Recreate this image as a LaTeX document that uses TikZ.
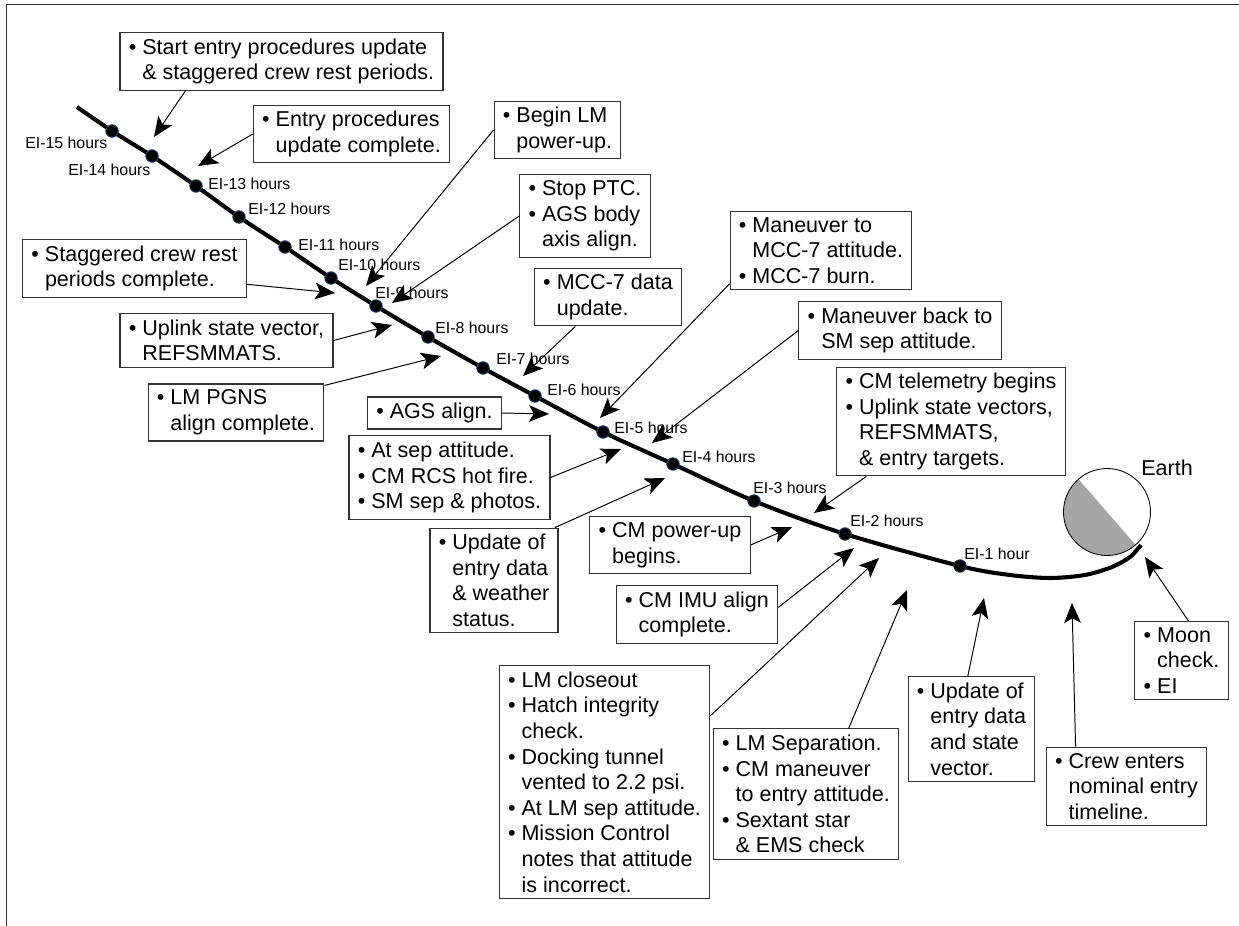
\documentclass[tikz,border=0pt]{standalone}
\usepackage{fontspec}
\setmainfont{Liberation Sans}
\usepackage{tikz}
\usepackage{xcolor}
\usetikzlibrary{arrows.meta}
\definecolor{lightgrey}{RGB}{166,166,166}
\definecolor{dotblue}{RGB}{31,56,100}
\definecolor{framegrey}{RGB}{50,50,50}
\newcommand{\itm}{\makebox[0.63em][l]{\textbullet}}
\newcommand{\ind}{\hspace*{0.63em}}
\tikzstyle{note}=[draw=black!80, line width=0.8pt, fill=white, align=left, inner xsep=0.22cm, inner ysep=0.15cm, font={\fontsize{15.3}{18.2}\selectfont}]
\tikzstyle{hour}=[anchor=west, inner sep=0pt, font={\fontsize{11.3}{13}\selectfont}]
\tikzstyle{dot}=[circle, fill=black, draw=dotblue, line width=0.7pt, inner sep=0pt, minimum size=0.31cm]
\tikzstyle{pointer}=[line width=0.7pt, -{Stealth[length=0.5cm, width=0.42cm, inset=0.12cm]}]

\begin{document}
\begin{tikzpicture}[x=0.025cm, y=-0.025cm]
		\useasboundingbox (0,0) rectangle (1239,926);
		\draw[framegrey, line width=1.3pt] (6.5,926) -- (6.5,4.5) -- (1239,4.5);

		% trajectory
		\draw[line width=2.9pt] plot[smooth] coordinates {(77,107) (112,131) (152,156) (196,186) (239,217) (285,247) (331,278) (376,306) (428,337) (483,368) (535,396) (603,432) (673,464) (754,501) (845,534) (960,566) (1010,575) (1050,578) (1085,575) (1112,567) (1130,557) (1141,545)};

		% earth
		\fill[lightgrey] (1107,512) ++(49:43.5) arc[start angle=49, end angle=229, radius=43.5] -- cycle;
		\draw[line width=0.6pt] (1107,512) circle[radius=43.5];
		\node[font={\fontsize{15.3}{18.2}\selectfont}] (earth) at (1167,468) {Earth};

		\foreach \n/\x/\y in {15/112/131, 14/152/156, 13/196/186, 12/239/217, 11/285/247, 10/331/278, 9/376/306, 8/428/337, 7/483/368, 6/535/396, 5/603/432, 4/673/464, 3/754/501, 2/845/534, 1/960/566}
			\node[dot] (d\n) at (\x,\y) {};
		\foreach \n/\x/\y in {15/25/143, 14/68/170, 13/208/184, 12/248/209, 11/298/245, 10/338/265, 9/375/293, 8/435/328, 7/496/359, 6/547/390, 5/614/428, 4/682/457, 3/753/488, 2/850/521}
			\node[hour] (l\n) at (\x,\y) {EI-\n\ hours};
		\node[hour] (l1) at (964,554) {EI-1 hour};

		% upper notes
		\node[note] (startUpd) at (281.5,61.5) {\itm Start entry procedures update\\ \ind\& staggered crew rest periods.};
		\node[note] (updDone) at (351.5,134) {\itm Entry procedures\\ \ind update complete.};
		\node[note] (lmPower) at (557.5,130) {\itm Begin LM\\ \ind power-up.};
		\node[note] (stopPtc) at (585,216) {\itm Stop PTC.\\ \itm AGS body\\ \ind axis align.};
		\node[note] (mccData) at (608,297) {\itm MCC-7 data\\ \ind update.};
		\node[note] (mccBurn) at (821,250.5) {\itm Maneuver to\\ \ind MCC-7 attitude.\\ \itm MCC-7 burn.};
		\node[note] (smBack) at (900,330.5) {\itm Maneuver back to\\ \ind SM sep attitude.};
		\node[note] (cmTlm) at (951,421.5) {\itm CM telemetry begins\\ \itm Uplink state vectors,\\ \ind REFSMMATS,\\ \ind\& entry targets.};

		% left notes
		\node[note] (restDone) at (134.5,268.5) {\itm Staggered crew rest\\ \ind periods complete.};
		\node[note] (uplink) at (226.5,340.5) {\itm Uplink state vector,\\ \ind REFSMMATS.};
		\node[note] (pgns) at (236,412.5) {\itm LM PGNS\\ \ind align complete.};
		\node[note] (agsAlign) at (434.5,413) {\itm AGS align.};
		\node[note] (sepAtt) at (449.5,477.5) {\itm At sep attitude.\\ \itm CM RCS hot fire.\\ \itm SM sep \& photos.};
		\node[note] (wxData) at (494,580.5) {\itm Update of\\ \ind entry data\\ \ind\& weather\\ \ind status.};
		\node[note] (cmPower) at (670,545) {\itm CM power-up\\ \ind begins.};
		\node[note] (cmImu) at (697,614.5) {\itm CM IMU align\\ \ind complete.};

		% lower notes
		\node[note] (lmClose) at (604.5,782) {\itm LM closeout\\ \itm Hatch integrity\\ \ind check.\\ \itm Docking tunnel\\ \ind vented to 2.2 psi.\\ \itm At LM sep attitude.\\ \itm Mission Control\\ \ind notes that attitude\\ \ind is incorrect.};
		\node[note] (lmSep) at (806,794) {\itm LM Separation.\\ \itm CM maneuver\\ \ind to entry attitude.\\ \itm Sextant star\\ \ind\& EMS check};
		\node[note] (svData) at (971.5,729) {\itm Update of\\ \ind entry data\\ \ind and state\\ \ind vector.};
		\node[note] (crewTl) at (1126.5,786.5) {\itm Crew enters\\ \ind nominal entry\\ \ind timeline.};
		\node[note] (moonChk) at (1181.5,660.5) {\itm Moon\\ \ind check.\\ \itm EI};

		\coordinate (startUpdTip) at (154,137);
		\coordinate (updDoneTip) at (198,166);
		\coordinate (lmPowerTip) at (366,286);
		\coordinate (stopPtcTip) at (392,303);
		\coordinate (mccDataTip) at (523,376);
		\coordinate (mccBurnTip) at (600,418);
		\coordinate (smBackTip) at (652,443);
		\coordinate (cmTlmTip) at (814,513);
		\coordinate (restDoneTip) at (335,293);
		\coordinate (uplinkTip) at (392,325);
		\coordinate (pgnsTip) at (441,356);
		\coordinate (agsAlignTip) at (549,414);
		\coordinate (sepAttTip) at (621,449);
		\coordinate (wxDataTip) at (665,478);
		\coordinate (cmPowerTip) at (792,527);
		\coordinate (cmImuTip) at (854,548);
		\coordinate (lmCloseTip) at (879,558);
		\coordinate (lmSepTip) at (907,590);
		\coordinate (svDataTip) at (984,598);
		\coordinate (crewTlTip) at (1072,603);
		\coordinate (moonChkTip) at (1145,557);

		\draw[pointer] (startUpd.197) -- (startUpdTip);
		\draw[pointer] (updDone.west) -- (updDoneTip);
		\draw[pointer] (lmPower.west) -- (lmPowerTip);
		\draw[pointer] (stopPtc.west) -- (stopPtcTip);
		\draw[pointer] (mccData.222) -- (mccDataTip);
		\draw[pointer] (mccBurn.200) -- (mccBurnTip);
		\draw[pointer] (smBack.west) -- (smBackTip);
		\draw[pointer] (cmTlm.213) -- (cmTlmTip);
		\draw[pointer] (restDone.352) -- (restDoneTip);
		\draw[pointer] (uplink.east) -- (uplinkTip);
		\draw[pointer] (pgns.17) -- (pgnsTip);
		\draw[pointer] (agsAlign.east) -- (agsAlignTip);
		\draw[pointer] (sepAtt.east) -- (sepAttTip);
		\draw[pointer] (wxData.41) -- (wxDataTip);
		\draw[pointer] (cmPower.east) -- (cmPowerTip);
		\draw[pointer] (cmImu.5) -- (cmImuTip);
		\draw[pointer] (lmClose.32) -- (lmCloseTip);
		\draw[pointer] (lmSep.57) -- (lmSepTip);
		\draw[pointer] (svData.94) -- (svDataTip);
		\draw[pointer] (crewTl.142) -- (crewTlTip);
		\draw[pointer] (moonChk.80) -- (moonChkTip);
	\end{tikzpicture}
\end{document}
